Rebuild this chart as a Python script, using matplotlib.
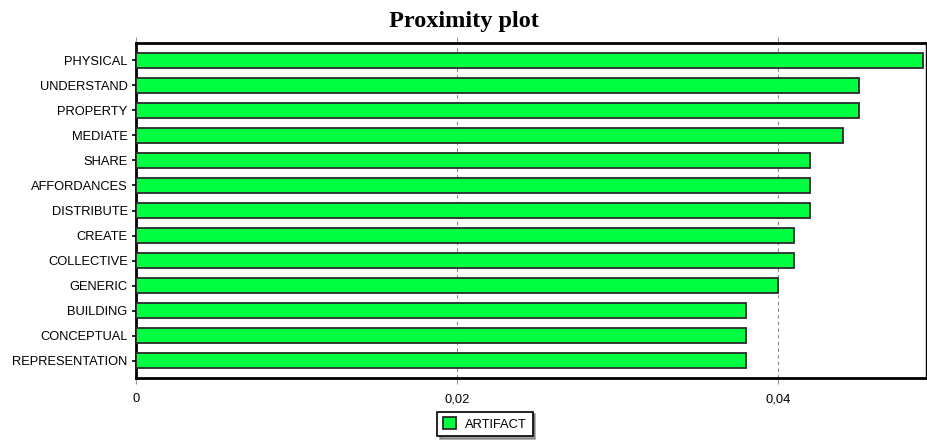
import matplotlib.pyplot as plt
from matplotlib.ticker import FuncFormatter

# data (top to bottom)
labels = ['PHYSICAL', 'UNDERSTAND', 'PROPERTY', 'MEDIATE', 'SHARE', 'AFFORDANCES',
          'DISTRIBUTE', 'CREATE', 'COLLECTIVE', 'GENERIC', 'BUILDING', 'CONCEPTUAL',
          'REPRESENTATION']
values = [0.049, 0.045, 0.045, 0.044, 0.042, 0.042, 0.042, 0.041, 0.041, 0.040,
          0.038, 0.038, 0.038]
series_name = 'ARTIFACT'
xticks = [0, 0.02, 0.04]

fig = plt.figure(figsize=(9.28, 4.40), dpi=100)
ax = fig.add_axes([136 / 928, 1 - 378 / 440, 790 / 928, 335 / 440])

pos = list(range(len(labels)))
ax.barh(pos, values, height=0.6, color='#00ff40', edgecolor='#2b2b2b',
        linewidth=1.3, label=series_name, zorder=3)

ax.set_ylim(len(labels) - 0.3, -0.7)
ax.set_xlim(0, 0.0492)
ax.set_yticks(pos)
ax.set_yticklabels(labels, family='Liberation Sans', fontsize=9.3)
ax.set_xticks(xticks)
ax.xaxis.set_major_formatter(FuncFormatter(lambda v, p: '0' if v == 0 else f'{v:.2f}'.replace('.', ',')))
for t in ax.get_xticklabels():
    t.set_family('Liberation Sans')
    t.set_fontsize(9.3)
ax.tick_params(axis='y', length=3, width=1.2, pad=3)
ax.tick_params(axis='x', length=4, width=0.8, color='#999999', pad=7, top=True)
ax.grid(axis='x', linestyle=(0, (3, 3)), color='#888888', linewidth=0.8, zorder=0)

for side in ['left', 'bottom', 'top']:
    ax.spines[side].set_linewidth(2)
ax.spines['right'].set_linewidth(1)

fig.text(0.5, 0.952, 'Proximity plot', ha='center', va='center',
         family='Liberation Serif', fontweight='bold', fontsize=17.5)

leg = fig.legend(loc='center', bbox_to_anchor=(485 / 928, 1 - 424 / 440), frameon=True,
                 fancybox=False, shadow=True, prop={'family': 'Liberation Sans', 'size': 9.3},
                 handlelength=1.0, handleheight=1.0, borderpad=0.45, handletextpad=0.7)
leg.get_frame().set_edgecolor('black')
leg.get_frame().set_linewidth(1.2)

plt.savefig('out.png', dpi=100)
